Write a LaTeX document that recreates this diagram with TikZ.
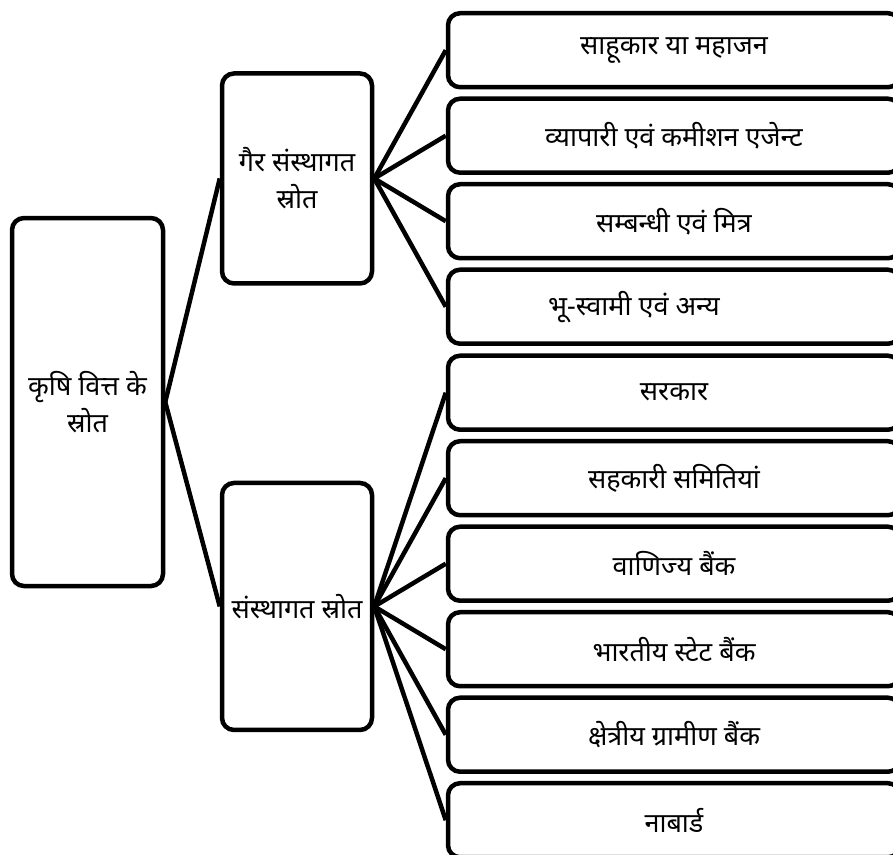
\documentclass[tikz,border=0pt]{standalone}
\usepackage{fontspec}
\newfontfamily\devfont[Script=Devanagari]{Noto Sans}

\begin{document}
\begin{tikzpicture}[
    x=1pt, y=1pt,
    grow'=right,
    edge from parent path={(\tikzparentnode.east) -- (\tikzchildnode.west)},
    edge from parent/.style={draw, line width=4.5pt},
    level 1/.style={level distance=131.75pt, sibling distance=428pt, growth parent anchor=7.3},
    level 2/.style={level distance=377pt, sibling distance=85.5pt, growth parent anchor=center},
    box/.style={draw, line width=4.5pt, rounded corners=12pt, align=center,
                font=\devfont\fontsize{27}{37}\selectfont},
    srcbox/.style={box, minimum width=151pt, minimum height=368pt},
    typebox/.style={box, minimum width=150pt, inner sep=2pt},
    leafbox/.style={box, minimum width=452pt, minimum height=74pt}
  ]
  \useasboundingbox (0,0) rectangle (893,-854);

  % Jad : krishi vitt
  \node[srcbox] (srot) at (87.5,-402) {कृषि वित्त के\\स्रोत}
    % Star 1 : gair sansthagat
    child { node[typebox, minimum height=210pt] (gair) {गैर संस्थागत\\स्रोत}
            child { node[leafbox] (sahukar) {साहूकार या महाजन} }
            child { node[leafbox] (vyapari) {व्यापारी एवं कमीशन एजेन्ट} }
            child { node[leafbox] (sambandhi) {सम्बन्धी एवं मित्र} }
            child { node[leafbox] (bhuswami) {भू-स्वामी एवं अन्य\hspace*{80pt}} }
          }
    % Star 1 : sansthagat
    child { node[typebox, minimum height=247pt] (sanstha) {संस्थागत स्रोत}
            child { node[leafbox] (sarkar) {सरकार} }
            child { node[leafbox] (sahkari) {सहकारी समितियां} }
            child { node[leafbox] (vanijya) {वाणिज्य बैंक} }
            child { node[leafbox] (sbi) {भारतीय स्टेट बैंक} }
            child { node[leafbox] (gramin) {क्षेत्रीय ग्रामीण बैंक} }
            child { node[leafbox] (nabard) {नाबार्ड} }
          };

\end{tikzpicture}
\end{document}
